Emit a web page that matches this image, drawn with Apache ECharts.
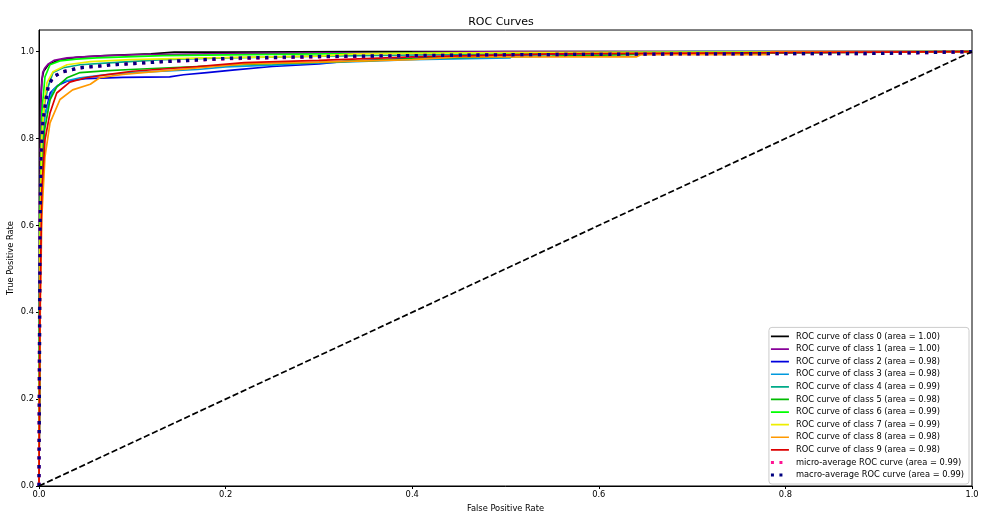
<!DOCTYPE html>
<html>
<head>
<meta charset="utf-8">
<script src="https://cdn.jsdelivr.net/npm/echarts@6/dist/echarts.min.js"></script>
<style>html,body{margin:0;padding:0;background:#fff;}#c{width:1002px;height:516px;}</style>
</head>
<body>
<div id="c"></div>
<script>
const xTicks = [0, 0.2, 0.4, 0.6, 0.8, 1.0];
const yTicks = [0, 0.2, 0.4, 0.6, 0.8, 1.0];

const classNames = [
  'ROC curve of class 0 (area = 1.00)',
  'ROC curve of class 1 (area = 1.00)',
  'ROC curve of class 2 (area = 0.98)',
  'ROC curve of class 3 (area = 0.98)',
  'ROC curve of class 4 (area = 0.99)',
  'ROC curve of class 5 (area = 0.98)',
  'ROC curve of class 6 (area = 0.99)',
  'ROC curve of class 7 (area = 0.99)',
  'ROC curve of class 8 (area = 0.98)',
  'ROC curve of class 9 (area = 0.98)'
];
const microName = 'micro-average ROC curve (area = 0.99)';
const macroName = 'macro-average ROC curve (area = 0.99)';

const fpr0 = [0, 0.001, 0.002, 0.003, 0.005, 0.01, 0.02, 0.04, 0.07, 0.12, 0.145, 0.2, 0.35, 1];
const tpr0 = [0, 0.6, 0.88, 0.935, 0.955, 0.97, 0.98, 0.987, 0.991, 0.995, 0.999, 0.999, 1.0, 1.0];
const fpr1 = [0, 0.001, 0.002, 0.004, 0.006, 0.01, 0.016, 0.03, 0.06, 0.1, 0.18, 0.23, 0.4, 0.5, 1];
const tpr1 = [0, 0.55, 0.9, 0.952, 0.962, 0.972, 0.98, 0.986, 0.99, 0.993, 0.995, 0.996, 0.998, 1.0, 1.0];
const fpr2 = [0, 0.001, 0.003, 0.006, 0.012, 0.02, 0.03, 0.05, 0.09, 0.14, 0.155, 0.18, 0.21, 0.25, 0.3, 0.33, 0.38, 0.45, 0.6, 1];
const tpr2 = [0, 0.45, 0.75, 0.85, 0.905, 0.922, 0.932, 0.938, 0.941, 0.942, 0.947, 0.952, 0.958, 0.966, 0.972, 0.978, 0.983, 0.99, 0.996, 1];
const fpr3 = [0, 0.001, 0.003, 0.006, 0.009, 0.015, 0.026, 0.044, 0.07, 0.1, 0.17, 0.2, 0.25, 0.3, 0.4, 0.505, 0.51, 0.7, 1];
const tpr3 = [0, 0.5, 0.78, 0.85, 0.873, 0.912, 0.931, 0.94, 0.947, 0.952, 0.959, 0.965, 0.969, 0.974, 0.982, 0.986, 0.995, 1, 1];
const fpr4 = [0, 0.001, 0.003, 0.006, 0.0097, 0.015, 0.026, 0.044, 0.079, 0.133, 0.2, 0.3, 0.45, 0.6, 1];
const tpr4 = [0, 0.55, 0.82, 0.88, 0.919, 0.952, 0.963, 0.97, 0.975, 0.982, 0.986, 0.99, 0.994, 0.998, 1];
const fpr5 = [0, 0.001, 0.003, 0.006, 0.0118, 0.019, 0.03, 0.044, 0.07, 0.098, 0.17, 0.22, 0.28, 0.36, 0.42, 0.55, 0.7, 1];
const tpr5 = [0, 0.45, 0.72, 0.82, 0.889, 0.919, 0.94, 0.952, 0.956, 0.959, 0.966, 0.971, 0.974, 0.98, 0.986, 0.99, 0.996, 1];
const fpr6 = [0, 0.001, 0.003, 0.0064, 0.0118, 0.0225, 0.04, 0.062, 0.133, 0.25, 0.4, 1];
const tpr6 = [0, 0.6, 0.86, 0.942, 0.97, 0.979, 0.983, 0.986, 0.991, 0.994, 0.997, 1];
const fpr7 = [0, 0.001, 0.003, 0.006, 0.0086, 0.015, 0.03, 0.055, 0.098, 0.18, 0.3, 0.34, 0.5, 1];
const tpr7 = [0, 0.55, 0.8, 0.89, 0.929, 0.954, 0.97, 0.977, 0.982, 0.986, 0.99, 0.995, 0.998, 1];
const fpr8 = [0, 0.001, 0.003, 0.0064, 0.0118, 0.0225, 0.036, 0.055, 0.065, 0.09, 0.17, 0.22, 0.3, 0.4, 0.45, 0.64, 0.645, 0.78, 0.785, 1];
const tpr8 = [0, 0.35, 0.62, 0.758, 0.836, 0.89, 0.912, 0.925, 0.94, 0.948, 0.963, 0.972, 0.976, 0.982, 0.988, 0.988, 0.993, 0.993, 1, 1];
const fpr9 = [0, 0.001, 0.003, 0.0064, 0.0118, 0.019, 0.033, 0.05, 0.075, 0.1, 0.17, 0.22, 0.3, 0.4, 0.55, 1];
const tpr9 = [0, 0.4, 0.68, 0.797, 0.859, 0.905, 0.93, 0.94, 0.948, 0.955, 0.966, 0.975, 0.98, 0.988, 0.995, 1];
const fprMicro = [0, 0, 0.0005, 0.001, 0.002, 0.0043, 0.0097, 0.015, 0.026, 0.044, 0.079, 0.133, 0.205, 0.3, 0.5, 0.7, 0.9, 1];
const tprMicro = [0, 0.06, 0.35, 0.6, 0.76, 0.843, 0.919, 0.942, 0.954, 0.963, 0.970, 0.977, 0.984, 0.988, 0.993, 0.995, 0.996, 1];
const fprMacro = [0, 0.001, 0.002, 0.0043, 0.0097, 0.015, 0.026, 0.044, 0.079, 0.133, 0.205, 0.3, 0.5, 0.7, 0.9, 1];
const tprMacro = [0, 0.55, 0.76, 0.843, 0.919, 0.942, 0.954, 0.963, 0.970, 0.977, 0.985, 0.989, 0.993, 0.995, 0.996, 1];
const chanceX = [0, 1];
const chanceY = [0, 1];

const classColors = ['#000000', '#880099', '#0000dd', '#0099dd', '#00aa88', '#00bb00', '#00ff00', '#eeee00', '#ff9900', '#dd0000'];
const microColor = '#ff1493';
const macroColor = '#000080';

const fprs = [fpr0, fpr1, fpr2, fpr3, fpr4, fpr5, fpr6, fpr7, fpr8, fpr9];
const tprs = [tpr0, tpr1, tpr2, tpr3, tpr4, tpr5, tpr6, tpr7, tpr8, tpr9];
const pairs = (xs, ys) => xs.map((x, i) => [x, ys[i]]);

const FONT = 'DejaVu Sans';
const lineIcon = 'path://M0,0h0.001v0.001h-0.001z M0,1.2h18v1.7h-18z M17.999,3.999h0.001v0.001h-0.001z';
const dotIcon = 'path://M0,0h0.001v0.001h-0.001z M0,0.5h3v3h-3z M8.5,0.5h3v3h-3z M17.999,3.999h0.001v0.001h-0.001z';

const series = [];
classNames.forEach((name, i) => {
  series.push({
    name: name, type: 'line', data: pairs(fprs[i], tprs[i]),
    symbol: 'none', animation: false, silent: true,
    itemStyle: { color: classColors[i] },
    lineStyle: { color: classColors[i], width: 1.7 }
  });
});
series.push({
  name: microName, type: 'line', data: pairs(fprMicro, tprMicro),
  symbol: 'none', animation: false, silent: true,
  itemStyle: { color: microColor },
  lineStyle: { color: microColor, width: 3.3, type: [3.3, 5.5], cap: 'butt' }
});
series.push({
  name: macroName, type: 'line', data: pairs(fprMacro, tprMacro),
  symbol: 'none', animation: false, silent: true,
  itemStyle: { color: macroColor },
  lineStyle: { color: macroColor, width: 3.3, type: [3.3, 5.5], cap: 'butt' }
});
series.push({
  name: 'chance', type: 'line', data: pairs(chanceX, chanceY),
  symbol: 'none', animation: false, silent: true,
  itemStyle: { color: '#000' },
  lineStyle: { color: '#000', width: 1.7, type: [6.2, 2.7] }
});

const legendData = classNames.map(n => ({ name: n, icon: lineIcon }))
  .concat([{ name: microName, icon: dotIcon }, { name: macroName, icon: dotIcon }]);

const chart = echarts.init(document.getElementById('c'), null, { renderer: 'canvas' });
chart.setOption({
  animation: false,
  backgroundColor: '#ffffff',
  title: {
    text: 'ROC Curves', left: 'center', top: 17, padding: 0,
    textStyle: { fontFamily: FONT, fontSize: 11, fontWeight: 'normal', color: '#000' }
  },
  grid: { left: 39, right: 30, top: 30, bottom: 30, outerBoundsMode: 'none', containLabel: false, show: true, borderColor: '#000', borderWidth: 1, backgroundColor: 'transparent' },
  legend: {
    data: legendData, orient: 'vertical', right: 33, bottom: 32,
    itemWidth: 18, itemHeight: 4, itemGap: 2.6,
    padding: [4, 5, 4, 2],
    backgroundColor: 'rgba(255,255,255,0.8)', borderColor: '#cccccc', borderWidth: 1, borderRadius: 3,
    textStyle: { fontFamily: FONT, fontSize: 8.3, color: '#000', lineHeight: 10, padding: [0, 0, 0, 2] },
    selectedMode: false
  },
  xAxis: {
    type: 'value', min: 0, max: 1,
    name: 'False Positive Rate', nameLocation: 'middle', nameGap: 19, nameMoveOverlap: false,
    nameTextStyle: { fontFamily: FONT, fontSize: 8.3, color: '#000' },
    axisLine: { show: true, onZero: false, lineStyle: { color: '#000', width: 1 } },
    axisTick: { show: true, length: 3, customValues: xTicks, lineStyle: { color: '#000', width: 1 } },
    axisLabel: { customValues: xTicks, margin: 5, fontFamily: FONT, fontSize: 8.3, color: '#000', formatter: v => v.toFixed(1) },
    splitLine: { show: false }
  },
  yAxis: {
    type: 'value', min: 0, max: 1.05,
    name: 'True Positive Rate', nameLocation: 'middle', nameGap: 24, nameMoveOverlap: false,
    nameTextStyle: { fontFamily: FONT, fontSize: 8.3, color: '#000' },
    axisLine: { show: true, onZero: false, lineStyle: { color: '#000', width: 1 } },
    axisTick: { show: true, length: 3, customValues: yTicks, lineStyle: { color: '#000', width: 1 } },
    axisLabel: { customValues: yTicks, margin: 5, fontFamily: FONT, fontSize: 8.3, color: '#000', formatter: v => v.toFixed(1) },
    splitLine: { show: false }
  },
  series: series
});
</script>
</body>
</html>
